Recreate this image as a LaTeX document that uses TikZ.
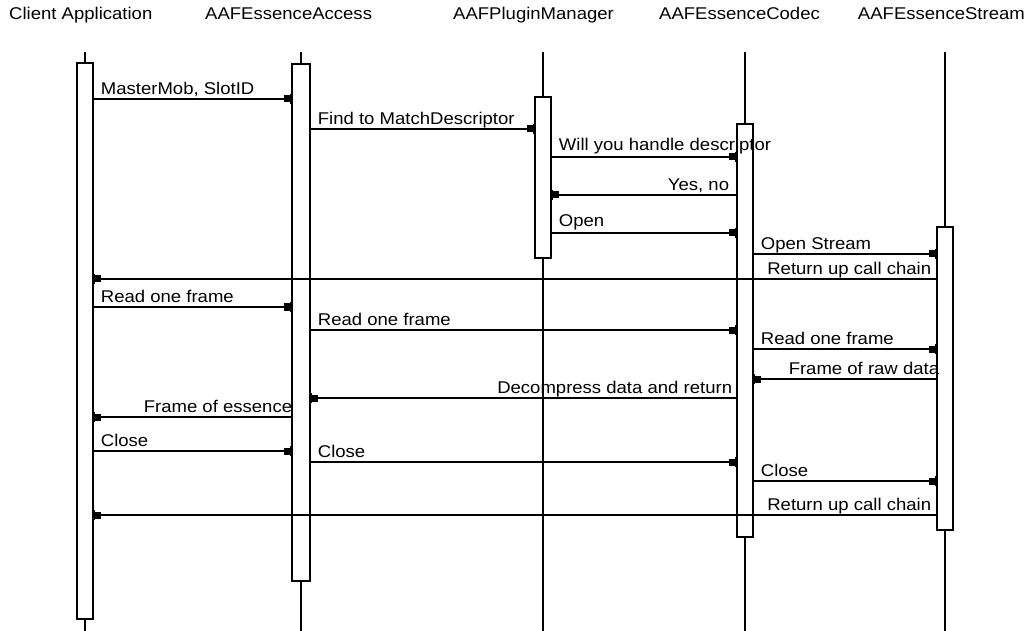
\documentclass[tikz,border=0pt]{standalone}
\usepackage{fontspec}
\setmainfont{Liberation Sans}[FakeStretch=1.09]
\usetikzlibrary{arrows.meta}
\begin{document}
\begin{tikzpicture}[x=1pt,y=-1pt,
  life/.style={line width=1.8pt},
  act/.style={draw, line width=1.5pt, fill=white, minimum width=16pt, inner sep=0pt, outer sep=0pt},
  msg/.style={line width=1.8pt, -{Rectangle[length=6pt,width=7pt]Bar[width=10pt,line width=1.6pt]}},
  lbl/.style={font=\fontsize{17}{20}\selectfont, inner sep=0pt, yshift=4.5pt},
  lft/.style={lbl, anchor=base west, xshift=7pt},
  rgt/.style={lbl, anchor=base east, xshift=-5pt},
  hdr/.style={font=\fontsize{17}{20}\selectfont, inner sep=0pt}]

\useasboundingbox (0,0) rectangle (1026,631);

% headers
\node[hdr, anchor=base west] (h1) at (9,20) {Client Application};
\node[hdr, anchor=base west] (h2) at (205,20) {AAFEssenceAccess};
\node[hdr, anchor=base west] (h3) at (453,20) {AAFPluginManager};
\node[hdr, anchor=base west] (h4) at (659,20) {AAFEssenceCodec};
\node[hdr, anchor=base east] (h5) at (1025,20) {AAFEssenceStream};

% lifelines
\coordinate (caT) at (85,52);  \coordinate (caB) at (85,631);
\coordinate (eaT) at (301,52); \coordinate (eaB) at (301,631);
\coordinate (pmT) at (543,52); \coordinate (pmB) at (543,631);
\coordinate (coT) at (745,52); \coordinate (coB) at (745,631);
\coordinate (stT) at (945,52); \coordinate (stB) at (945,631);
\draw[life] (caT) -- (caB);
\draw[life] (eaT) -- (eaB);
\draw[life] (pmT) -- (pmB);
\draw[life] (coT) -- (coB);
\draw[life] (stT) -- (stB);

% activation boxes
\node[act, minimum height=556pt] (ca) at (85,341) {};
\node[act, minimum width=18pt, minimum height=517pt] (ea) at (301,322.5) {};
\node[act, minimum height=161pt] (pm) at (543,177.5) {};
\node[act, minimum height=413pt] (co) at (745,330.5) {};
\node[act, minimum height=303pt] (st) at (945,378.5) {};

% messages
\draw[msg] (ca.east |- 0,99) -- node[lft,pos=0] (m1) {MasterMob, SlotID} (ea.west |- 0,99);
\draw[msg] (ea.east |- 0,129) -- node[lft,pos=0] (m2) {Find to MatchDescriptor} (pm.west |- 0,129);
\draw[msg] (pm.east |- 0,157) -- node[lft,pos=0,yshift=2pt] (m3) {Will you handle descriptor} (co.west |- 0,157);
\draw[msg] (co.west |- 0,195) -- node[rgt,pos=0,xshift=-2pt] (m4) {Yes, no} (pm.east |- 0,195);
\draw[msg] (pm.east |- 0,233) -- node[lft,pos=0,yshift=1.5pt] (m5) {Open} (co.west |- 0,233);
\draw[msg] (co.east |- 0,254) -- node[lft,pos=0] (m6) {Open Stream} (st.west |- 0,254);
\draw[msg] (st.west |- 0,279) -- node[rgt,pos=0] (m7) {Return up call chain} (ca.east |- 0,279);
\draw[msg] (ca.east |- 0,307) -- node[lft,pos=0] (m8) {Read one frame} (ea.west |- 0,307);
\draw[msg] (ea.east |- 0,330) -- node[lft,pos=0] (m9) {Read one frame} (co.west |- 0,330);
\draw[msg] (co.east |- 0,349) -- node[lft,pos=0] (m10) {Read one frame} (st.west |- 0,349);
\draw[msg] (st.west |- 0,379) -- node[rgt,pos=0,xshift=8pt] (m11) {Frame of raw data} (co.east |- 0,379);
\draw[msg] (co.west |- 0,398) -- node[rgt,pos=0,xshift=1pt] (m12) {Decompress data and return} (ea.east |- 0,398);
\draw[msg] (ea.west |- 0,417) -- node[rgt,pos=0,xshift=6pt] (m13) {Frame of essence} (ca.east |- 0,417);
\draw[msg] (ca.east |- 0,451) -- node[lft,pos=0] (m14) {Close} (ea.west |- 0,451);
\draw[msg] (ea.east |- 0,462) -- node[lft,pos=0] (m15) {Close} (co.west |- 0,462);
\draw[msg] (co.east |- 0,481) -- node[lft,pos=0] (m16) {Close} (st.west |- 0,481);
\draw[msg] (st.west |- 0,515) -- node[rgt,pos=0] (m17) {Return up call chain} (ca.east |- 0,515);
\end{tikzpicture}
\end{document}
